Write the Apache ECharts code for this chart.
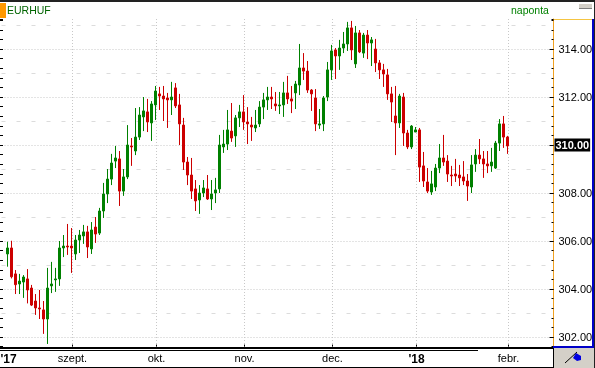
<!DOCTYPE html>
<html>
<head>
<meta charset="utf-8">
<style>html,body{margin:0;padding:0;background:#fff}#chart{width:595px;height:368px}</style>
<script src="https://cdn.jsdelivr.net/npm/echarts@6/dist/echarts.min.js"></script>
</head>
<body>
<div id="chart"></div>
<script>
// EURHUF napi gyertyák, az árfolyamok
const opens = [
  305.46,305.71,304.63,304.21,304.29,304.42,304.04,303.50,303.21,303.13,
  302.75,304.13,304.38,304.42,305.71,305.79,305.79,305.46,306.04,306.21,
  306.38,305.67,306.58,306.33,307.25,307.96,308.58,309.33,309.42,308.08,
  308.67,309.96,309.75,310.33,311.17,311.38,310.92,311.67,312.13,312.04,
  311.96,311.88,312.38,311.67,310.83,309.29,308.75,308.17,307.71,308.00,
  308.17,307.75,308.00,308.17,309.92,310.04,310.58,310.38,311.13,311.38,
  310.96,310.83,310.71,310.88,311.58,311.88,312.00,311.71,311.63,311.67,
  312.17,311.92,312.17,312.50,313.21,313.08,312.29,311.96,310.83,310.88,
  312.00,313.13,313.96,313.71,314.04,314.21,314.88,313.38,314.67,313.83,
  314.58,314.25,314.00,313.42,313.13,312.92,312.13,311.21,310.92,312.00,
  310.50,309.92,310.54,310.63,309.13,308.46,308.04,308.25,309.04,309.46,
  309.33,308.75,308.79,308.75,308.67,308.50,308.25,309.21,309.58,309.42,
  309.21,309.13,309.04,310.08,310.88,310.33,
];
const closes = [
  305.71,304.51,304.18,304.33,304.50,303.96,303.33,303.21,303.17,302.75,
  304.04,304.21,304.42,305.71,305.79,305.75,305.71,306.04,306.25,306.38,
  305.75,306.46,306.29,307.25,307.96,308.58,309.25,309.46,308.08,308.67,
  310.00,309.92,310.33,311.25,311.42,310.96,311.71,312.25,312.04,311.92,
  311.88,312.00,311.63,310.88,309.29,308.75,308.08,307.67,308.00,308.21,
  307.75,307.96,308.13,310.00,310.04,310.63,310.29,311.13,311.38,310.96,
  310.88,310.75,310.83,311.58,311.88,312.00,311.92,311.63,311.67,312.17,
  311.92,311.83,312.54,313.21,313.08,312.29,312.13,310.88,310.88,311.96,
  313.13,313.92,313.71,314.04,314.21,314.88,313.96,314.67,313.88,314.58,
  314.25,314.38,313.42,313.13,312.96,312.13,311.79,310.92,312.04,310.50,
  309.92,310.79,310.63,309.08,308.50,308.08,308.38,309.04,309.46,309.29,
  308.79,308.71,308.71,308.63,308.50,308.29,309.17,309.58,309.42,309.21,
  309.13,309.29,310.08,310.88,310.33,309.96,
];
const lows = [
  304.93,304.44,303.79,303.79,303.63,303.40,303.29,302.92,302.75,302.13,
  301.71,303.83,303.88,304.13,305.33,305.42,304.67,305.21,305.50,305.88,
  305.29,305.46,305.92,306.25,306.96,307.58,308.33,309.04,307.46,307.88,
  308.58,309.13,309.58,310.21,310.58,310.54,310.17,311.04,311.46,311.00,
  310.71,311.25,311.54,310.00,308.96,308.33,307.75,307.25,307.13,307.83,
  307.71,307.29,307.58,308.00,309.67,309.79,310.13,309.92,310.75,310.63,
  310.04,310.17,310.54,310.75,311.08,311.46,311.50,311.42,311.29,311.17,
  311.71,311.33,311.50,312.08,312.71,312.17,311.42,310.58,310.67,310.58,
  311.83,312.71,312.75,313.13,313.83,313.92,313.54,313.21,313.83,313.63,
  313.58,313.29,313.04,312.75,312.42,311.88,310.96,309.58,310.71,309.96,
  309.83,309.83,310.54,308.46,308.25,308.00,307.92,308.08,308.83,309.13,
  308.46,308.29,308.46,308.29,308.33,307.67,308.00,308.88,309.21,308.63,
  308.83,308.88,309.00,309.75,309.88,309.63,
];
const highs = [
  305.97,306.01,304.79,304.63,304.58,304.83,304.17,303.79,303.96,303.50,
  304.88,305.13,304.88,306.00,306.25,306.71,306.54,306.25,306.46,306.67,
  306.63,306.79,307.00,307.38,308.42,309.00,309.63,309.96,309.75,309.00,
  310.83,310.29,311.54,311.58,312.00,311.92,311.83,312.46,312.42,312.46,
  312.17,312.63,312.58,312.13,311.13,309.50,309.46,308.54,308.33,308.54,
  308.75,308.54,308.63,310.42,310.63,311.46,311.75,311.25,311.67,312.08,
  311.58,311.17,311.46,311.83,312.17,312.42,312.42,312.21,312.21,312.63,
  312.88,312.46,312.67,314.21,313.83,313.50,312.33,312.33,311.50,312.04,
  313.46,314.17,314.04,314.38,314.71,315.13,315.17,314.96,314.79,314.67,
  314.79,314.50,314.42,313.54,313.38,313.17,312.42,312.46,312.13,312.17,
  310.63,310.83,310.75,310.71,309.71,309.04,308.92,309.21,310.04,310.42,
  309.58,309.13,309.42,309.17,309.33,308.79,309.58,309.83,310.25,309.75,
  309.75,309.88,310.17,311.08,311.21,310.38,
];
const priceLabels = [302, 304, 306, 308, 310, 312, 314];
const halfLines = [303, 305, 307, 309, 311, 313, 315];
const currentPrice = 310;
// melyik gyertyánál van hónapfelirat; az első felirat alatt nincs függőleges rács
const monthSlots = [1, 17, 38, 60, 82, 103, 126];
const monthLabels = ["'17", 'szept.', 'okt.', 'nov.', 'dec.', "'18", 'febr.'];
const boldMonths = ["'17", "'18"];

const SLOTS = 138; // 4 px-es sávok a 552 px széles rajzterületen
const slots = Array.from({ length: SLOTS }, (_, i) => String(i));
const candles = opens.map((o, i) => [String(i + 1), o, closes[i], lows[i], highs[i]]);

const FONT = '"Liberation Sans", Arial, sans-serif';
const GREEN = '#008000', RED = '#cc0000';
const Y_MIN = 301.6, Y_MAX = 315.25;

const monthAt = i => monthLabels[monthSlots.indexOf(i)] || '';
const isGridSlot = i => monthSlots.includes(i) && i !== monthSlots[0];

const chart = echarts.init(document.getElementById('chart'), null, { renderer: 'canvas' });

function yBase(extra) {
  return {
    min: Y_MIN, max: Y_MAX, type: 'value', scale: true,
    axisLine: { show: false }, axisLabel: { show: false },
    axisTick: { show: false }, splitLine: { show: false },
    ...extra,
  };
}

// keretek, fejléc, sarokikon: nem adat, csak a program ablaka
function chrome() {
  const rect = (x, y, width, height, fill, z = 50) => ({
    type: 'rect', silent: true, z, shape: { x, y, width, height }, style: { fill },
  });
  return [
    rect(0, 0, 595, 2, '#222222'),
    rect(0, 3, 6, 15, '#ff9900'),
    rect(579, 4, 13, 5, '#d4d0c8'),
    rect(579, 8, 13, 1, '#808080'),
    rect(554, 19, 38, 1, '#f5c542'),
    rect(592, 19, 2, 328, '#0000c8'),
    rect(553, 346, 41, 2, '#0000c8'),
    rect(594, 0, 1, 368, '#222222'),
    rect(0, 347, 553, 1, '#000000'),
    rect(0, 348, 553, 1, '#000000'),
    rect(0, 350, 478, 1, '#000000'),
    rect(0, 367, 553, 1, '#000000'),
    rect(553, 348, 41, 20, '#d4d0c8'),
    rect(553, 348, 1, 20, '#000000'),
    {
      type: 'line', silent: true, z: 51,
      shape: { x1: 565, y1: 363, x2: 577, y2: 352 },
      style: { stroke: '#000000', lineWidth: 1 },
    },
    {
      type: 'polygon', silent: true, z: 51,
      shape: { points: [[576, 353], [581, 356], [581, 360], [577, 361], [573, 358]] },
      style: { fill: '#0000e0' },
    },
    {
      type: 'text', silent: true, z: 51, x: 7, y: 6,
      style: { text: 'EURHUF', fill: '#006400', font: '10.5px ' + FONT },
    },
    {
      type: 'text', silent: true, z: 51, x: 511, y: 6,
      style: { text: 'naponta', fill: '#008000', font: '10.5px ' + FONT },
    },
  ];
}

chart.setOption({
  animation: false,
  backgroundColor: '#ffffff',
  grid: [
    { left: 1.5, right: 41.5, top: 19, bottom: 21.4, outerBoundsMode: 'none' },
    // hónaprács: egy pixellel a gyertya közepe mellett áll
    { left: 4.5, width: (SLOTS - 1) * 4, top: 19, bottom: 21.4, outerBoundsMode: 'none' },
  ],
  xAxis: [
    { type: 'category', gridIndex: 0, data: slots, show: false },
    {
      type: 'category', gridIndex: 1, data: slots, boundaryGap: false,
      axisLine: { show: false },
      axisTick: {
        show: true, inside: true, length: 2, lineStyle: { color: '#000' },
        interval: isGridSlot,
      },
      splitLine: {
        show: true, interval: isGridSlot,
        lineStyle: { color: '#c8c8c8', type: [1, 2], width: 1 },
      },
      axisLabel: {
        show: true, interval: i => monthSlots.includes(i), margin: 7,
        hideOverlap: false,
        color: '#000', fontFamily: FONT, fontSize: 11,
        formatter: (v, i) => boldMonths.includes(monthAt(i))
          ? `{b|${monthAt(i)}}` : monthAt(i),
        rich: { b: { fontFamily: FONT, fontSize: 12, fontWeight: 'bold', color: '#000' } },
      },
    },
  ],
  yAxis: [
    yBase({
      position: 'right', interval: 0.4,
      axisLine: { show: true, lineStyle: { color: '#f0a020', width: 1 } },
      axisTick: { show: true, inside: true, length: 2, lineStyle: { color: '#000' } },
    }),
    yBase({
      position: 'right',
      axisTick: { show: true, inside: true, length: 4, customValues: priceLabels, lineStyle: { color: '#000' } },
      splitLine: { show: true, lineStyle: { color: '#c8c8c8', type: [1, 2] } },
      axisLabel: {
        show: true, customValues: priceLabels, margin: 1, color: '#000',
        fontFamily: FONT, fontSize: 11, align: 'left',
        formatter: v => v === currentPrice ? `{hl|${v.toFixed(2)}}` : `{n|${v.toFixed(2)}}`,
        rich: {
          n: { padding: [2, 0, 0, 4], fontFamily: FONT, fontSize: 11, color: '#000' },
          hl: {
            padding: [2, 1, 0, 1], lineHeight: 12, backgroundColor: '#000', color: '#fff',
            fontFamily: FONT, fontSize: 11, fontWeight: 'bold',
          },
        },
      },
    }),
    yBase({
      position: 'right',
      axisTick: { show: false, customValues: halfLines },
      splitLine: { show: true, lineStyle: { color: '#dcdcdc', type: [4, 11] } },
    }),
    yBase({
      position: 'left', offset: 1.5, interval: 0.4,
      axisTick: { show: true, inside: true, length: 3, lineStyle: { color: '#000' } },
    }),
    yBase({ gridIndex: 1, show: false }),
  ],
  series: [{
    type: 'candlestick',
    xAxisIndex: 0, yAxisIndex: 0,
    barWidth: 3,
    encode: { x: 0, y: [1, 2, 3, 4] },
    itemStyle: {
      color: GREEN, color0: RED,
      borderColor: GREEN, borderColor0: RED, borderWidth: 1,
    },
    data: candles,
  }],
  graphic: chrome(),
});
</script>
</body>
</html>
